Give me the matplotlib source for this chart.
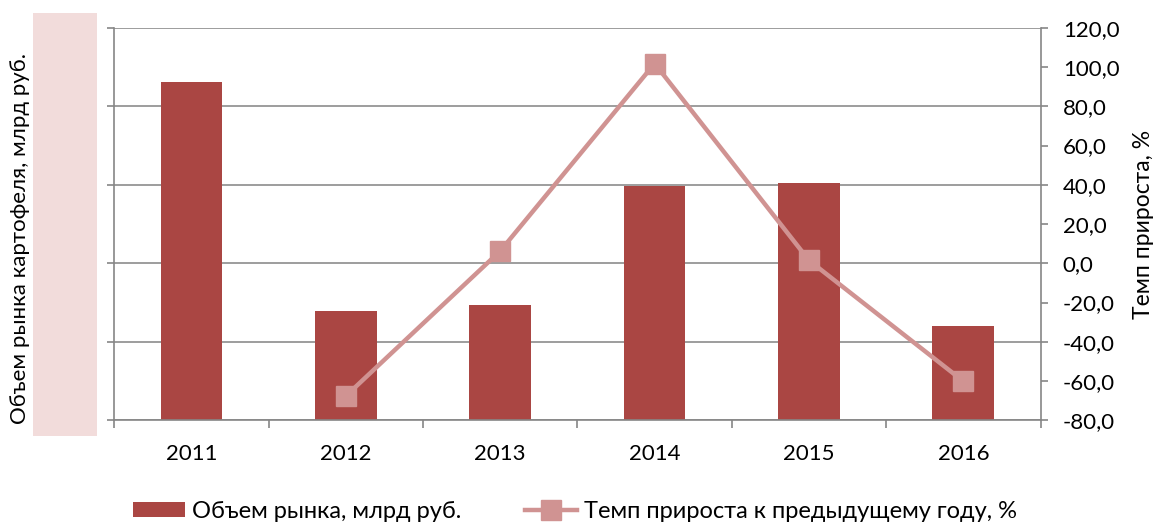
import numpy as np
import matplotlib
matplotlib.use("Agg")
import matplotlib.pyplot as plt
from matplotlib.patches import Rectangle
from matplotlib.ticker import FixedLocator, MultipleLocator

years = ["2011", "2012", "2013", "2014", "2015", "2016"]
# left-axis values (tick labels are covered in the source, scale 0..100)
market = [86.2, 27.8, 29.4, 59.7, 60.5, 24.0]
growth = [np.nan, -67.6, 6.3, 101.8, 1.5, -60.1]

bar_label = "Объем рынка, млрд руб."
line_label = "Темп прироста к предыдущему году, %"
left_title = "Объем рынка картофеля, млрд руб."
right_title = "Темп прироста, %"

BAR = "#AA4643"
LINE = "#D09392"
AXIS = "#868686"
GRID = "#8C8C8C"

plt.rcParams["font.family"] = ["Lato", "DejaVu Sans"]

fig = plt.figure(figsize=(11.63, 5.25), dpi=100)
ax = fig.add_axes([0.0983, 0.1994, 0.7964, 0.7476])
ax2 = ax.twinx()

x = np.arange(len(years))
ax.bar(x, market, width=0.4, color=BAR, zorder=2, label=bar_label)
ax.set_xlim(-0.5, len(years) - 0.5)
ax.set_ylim(0, 100)
ax.yaxis.set_major_locator(MultipleLocator(20))
ax.set_yticklabels([])
ax.grid(axis="y", color=GRID, linewidth=1.2, zorder=0)
ax.set_axisbelow(True)

# category boundaries get the tick marks, centres get the labels
ax.xaxis.set_major_locator(FixedLocator(np.arange(-0.5, len(years), 1.0)))
ax.xaxis.set_minor_locator(FixedLocator(x))
ax.set_xticklabels([], minor=False)
ax.set_xticklabels(years, minor=True, fontsize=16)
ax.tick_params(axis="x", which="major", length=5.5, color=AXIS, width=1.2)
ax.tick_params(axis="x", which="minor", length=0, pad=17)
ax.tick_params(axis="y", length=5, color=AXIS, width=1.2)

ax2.plot(x, growth, color=LINE, linewidth=3.2, marker="s", markersize=14,
         markeredgecolor=LINE, zorder=3, label=line_label)
ax2.set_ylim(-80, 120)
ax2.yaxis.set_major_locator(MultipleLocator(20))
ax2.set_yticklabels([f"{v:.1f}".replace(".", ",") for v in ax2.get_yticks()],
                    fontsize=16)
ax2.tick_params(axis="y", length=5, color=AXIS, width=1.2, pad=11)
ax2.set_ylabel(right_title, fontsize=16.5, labelpad=10)

for a in (ax, ax2):
    a.spines["top"].set_visible(False)
    for s in ("left", "right", "bottom"):
        a.spines[s].set_color(AXIS)
        a.spines[s].set_linewidth(1.2)
ax2.spines["left"].set_visible(False)
ax2.spines["bottom"].set_visible(False)
ax.spines["right"].set_visible(False)

# pink box covering the left tick labels
fig.patches.append(Rectangle((33 / 1163, 1 - 436 / 525), 64 / 1163, 423 / 525,
                             transform=fig.transFigure, facecolor="#F2DCDB",
                             edgecolor="none", zorder=0))
fig.text(20 / 1163, 1 - 238 / 525, left_title, rotation=90, fontsize=16,
         ha="center", va="center")

h1, l1 = ax.get_legend_handles_labels()
h2, l2 = ax2.get_legend_handles_labels()
fig.legend(h1 + h2, l1 + l2, loc="center", bbox_to_anchor=(575 / 1163, 1 - 511 / 525),
           ncol=2, frameon=False, fontsize=17, columnspacing=2.7,
           handlelength=2.2, handleheight=0.6, handletextpad=0.3,
           borderaxespad=0, borderpad=0)

fig.savefig("out.png", dpi=100)
